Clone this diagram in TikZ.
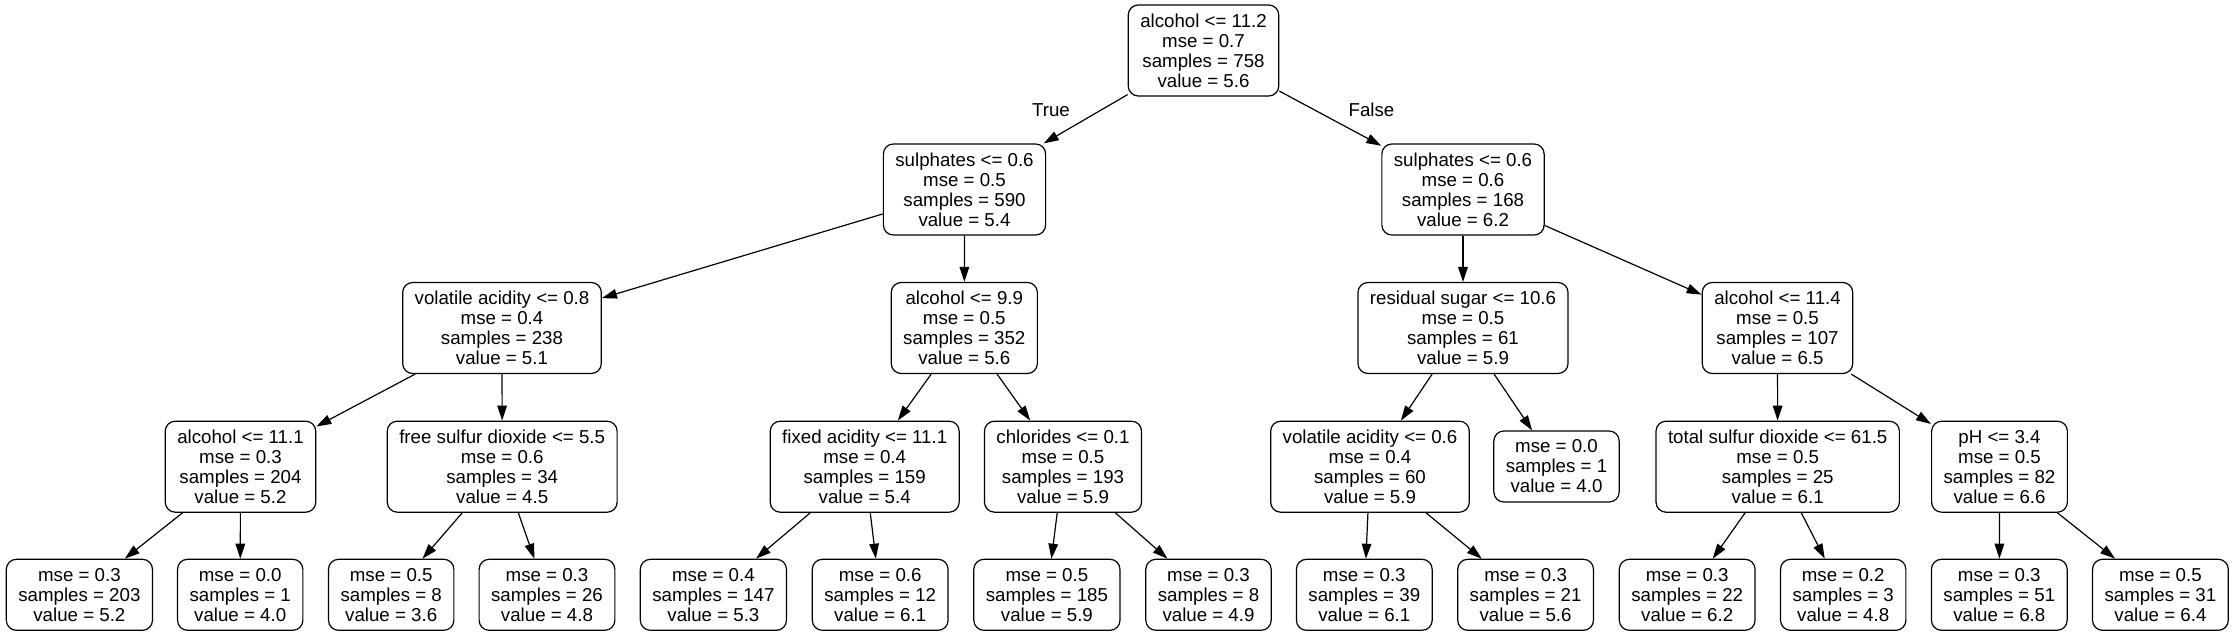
\documentclass[tikz,border=0pt]{standalone}
\usepackage{fontspec}
\setmainfont{Liberation Sans}
\usepackage{tikz}
\usetikzlibrary{arrows.meta, positioning}

\begin{document}
\begin{tikzpicture}[x=0.5pt, y=-0.5pt,
    >={Triangle[length=7.5pt, width=4.8pt]},
    every node/.style={font=\fontsize{9.35}{10}\selectfont},
    split/.style={draw, rectangle, rounded corners=5pt, align=center, line width=0.6pt,
                  inner xsep=6pt, inner ysep=1pt, minimum height=45.5pt},
    leaf/.style={split, minimum height=35.5pt},
    edge/.style={->, line width=0.6pt},
    branch/.style={inner sep=0pt}]
                \useasboundingbox (0,0) rectangle (2235,636);

                % Root
                \node [split] (root) at (1203.5,50.5) {alcohol <= 11.2\\mse = 0.7\\samples = 758\\value = 5.6};

                % Level 1
                \node [split] (sulph1) at (964.5,189.5) {sulphates <= 0.6\\mse = 0.5\\samples = 590\\value = 5.4};
                \node [split] (sulph2) at (1463,189.5) {sulphates <= 0.6\\mse = 0.6\\samples = 168\\value = 6.2};

                % Level 2
                \node [split] (vol1) at (502,328) {volatile acidity <= 0.8\\mse = 0.4\\samples = 238\\value = 5.1};
                \node [split] (alc2) at (964.3,328) {alcohol <= 9.9\\mse = 0.5\\samples = 352\\value = 5.6};
                \node [split] (sugar) at (1463,328) {residual sugar <= 10.6\\mse = 0.5\\samples = 61\\value = 5.9};
                \node [split] (alc3) at (1777.5,328) {alcohol <= 11.4\\mse = 0.5\\samples = 107\\value = 6.5};

                % Level 3
                \node [split] (alc4) at (240.5,466.7) {alcohol <= 11.1\\mse = 0.3\\samples = 204\\value = 5.2};
                \node [split] (fsd) at (502.2,466.7) {free sulfur dioxide <= 5.5\\mse = 0.6\\samples = 34\\value = 4.5};
                \node [split] (fixed) at (864.7,466.7) {fixed acidity <= 11.1\\mse = 0.4\\samples = 159\\value = 5.4};
                \node [split] (chlor) at (1063,466.7) {chlorides <= 0.1\\mse = 0.5\\samples = 193\\value = 5.9};
                \node [split] (vol2) at (1370,466.7) {volatile acidity <= 0.6\\mse = 0.4\\samples = 60\\value = 5.9};
                \node [leaf] (sugarR) at (1556.5,466.5) {mse = 0.0\\samples = 1\\value = 4.0};
                \node [split] (tsd) at (1777.7,466.7) {total sulfur dioxide <= 61.5\\mse = 0.5\\samples = 25\\value = 6.1};
                \node [split] (ph) at (1999.5,466.7) {pH <= 3.4\\mse = 0.5\\samples = 82\\value = 6.6};

                % Level 4 (leaves)
                \node [leaf] (alc4L) at (79.4,594.8) {mse = 0.3\\samples = 203\\value = 5.2};
                \node [leaf] (alc4R) at (240.2,594.8) {mse = 0.0\\samples = 1\\value = 4.0};
                \node [leaf] (fsdL) at (391.2,594.8) {mse = 0.5\\samples = 8\\value = 3.6};
                \node [leaf] (fsdR) at (547,594.8) {mse = 0.3\\samples = 26\\value = 4.8};
                \node [leaf] (fixedL) at (713.4,594.8) {mse = 0.4\\samples = 147\\value = 5.3};
                \node [leaf] (fixedR) at (880.2,594.8) {mse = 0.6\\samples = 12\\value = 6.1};
                \node [leaf] (chlorL) at (1046.9,594.8) {mse = 0.5\\samples = 185\\value = 5.9};
                \node [leaf] (chlorR) at (1208.5,594.8) {mse = 0.3\\samples = 8\\value = 4.9};
                \node [leaf] (vol2L) at (1364.3,594.8) {mse = 0.3\\samples = 39\\value = 6.1};
                \node [leaf] (vol2R) at (1525.6,594.8) {mse = 0.3\\samples = 21\\value = 5.6};
                \node [leaf] (tsdL) at (1687.2,594.8) {mse = 0.3\\samples = 22\\value = 6.2};
                \node [leaf] (tsdR) at (1843.2,594.8) {mse = 0.2\\samples = 3\\value = 4.8};
                \node [leaf] (phL) at (1999.3,594.8) {mse = 0.3\\samples = 51\\value = 6.8};
                \node [leaf] (phR) at (2160.4,594.8) {mse = 0.5\\samples = 31\\value = 6.4};

                % Branch labels
                \node [branch] (truelbl) at (1051,110) {True};
                \node [branch] (falselbl) at (1371.5,110) {False};

                \draw[edge] (root) -- (sulph1);
                \draw[edge] (root) -- (sulph2);
                \draw[edge] (sulph1) -- (vol1);
                \draw[edge] (sulph1) -- (alc2);
                \draw[edge] (sulph2) -- (sugar);
                \draw[edge] (sulph2) -- (alc3);
                \draw[edge] (vol1) -- (alc4);
                \draw[edge] (vol1) -- (fsd);
                \draw[edge] (alc2) -- (fixed);
                \draw[edge] (alc2) -- (chlor);
                \draw[edge] (sugar) -- (vol2);
                \draw[edge] (sugar) -- (sugarR);
                \draw[edge] (alc3) -- (tsd);
                \draw[edge] (alc3) -- (ph);
                \draw[edge] (alc4) -- (alc4L);
                \draw[edge] (alc4) -- (alc4R);
                \draw[edge] (fsd) -- (fsdL);
                \draw[edge] (fsd) -- (fsdR);
                \draw[edge] (fixed) -- (fixedL);
                \draw[edge] (fixed) -- (fixedR);
                \draw[edge] (chlor) -- (chlorL);
                \draw[edge] (chlor) -- (chlorR);
                \draw[edge] (vol2) -- (vol2L);
                \draw[edge] (vol2) -- (vol2R);
                \draw[edge] (tsd) -- (tsdL);
                \draw[edge] (tsd) -- (tsdR);
                \draw[edge] (ph) -- (phL);
                \draw[edge] (ph) -- (phR);
            \end{tikzpicture}
\end{document}
